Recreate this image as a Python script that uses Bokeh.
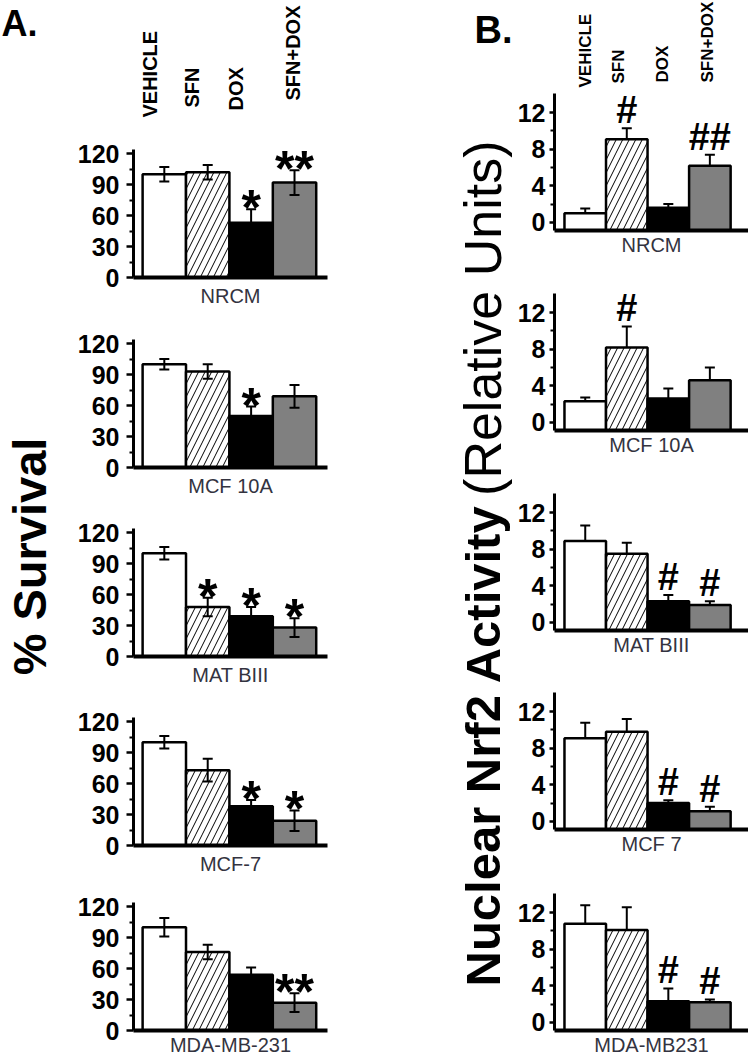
import numpy as np
from bokeh.plotting import figure
from bokeh.layouts import row, column
from bokeh.models import Range1d, FixedTicker, ColumnDataSource, Whisker, TeeHead, LabelSet
from bokeh.core.properties import value
from bokeh.embed import file_html
from bokeh.resources import INLINE

FONT = "Liberation Sans"

treatments = ["VEHICLE", "SFN", "DOX", "SFN+DOX"]

# ---------------- Panel A: % Survival ----------------
a_lines = ["NRCM", "MCF 10A", "MAT BIII", "MCF-7", "MDA-MB-231"]
a_nrcm = [100, 102, 53, 92]
a_nrcm_err = [7, 7, 13, 12]
a_mcf10a = [100, 93, 50, 69]
a_mcf10a_err = [5, 7, 9, 11]
a_matbiii = [100, 48, 39, 28]
a_matbiii_err = [6, 9, 9, 9]
a_mcf7 = [100, 73, 38, 24]
a_mcf7_err = [6, 11, 6, 10]
a_mdamb231 = [100, 76, 54, 27]
a_mdamb231_err = [9, 7, 7, 9]
a_marks = [["", "", "*", "**"],
           ["", "", "*", ""],
           ["", "*", "*", "*"],
           ["", "", "*", "*"],
           ["", "", "", "**"]]
a_ticks = [0, 30, 60, 90, 120]
a_minor = [15, 45, 75, 105]

# ---------------- Panel B: Nuclear Nrf2 activity ----------------
b_lines = ["NRCM", "MCF 10A", "MAT BIII", "MCF 7", "MDA-MB231"]
b_nrcm = [1.0, 9.1, 1.6, 6.2]
b_nrcm_err = [0.5, 1.2, 0.4, 1.2]
b_mcf10a = [2.3, 8.2, 2.6, 4.6]
b_mcf10a_err = [0.4, 2.3, 1.1, 1.4]
b_matbiii = [8.9, 7.5, 2.3, 1.9]
b_matbiii_err = [1.7, 1.2, 0.7, 0.4]
b_mcf7 = [9.1, 9.8, 2.0, 1.1]
b_mcf7_err = [1.7, 1.4, 0.3, 0.5]
b_mdamb231 = [10.8, 10.1, 2.3, 2.2]
b_mdamb231_err = [2.0, 2.5, 1.4, 0.3]
b_marks = [["", "#", "", "##"],
           ["", "#", "", ""],
           ["", "", "#", "#"],
           ["", "", "#", "#"],
           ["", "", "#", "#"]]
b_ticks = [0, 4, 8, 12]
b_minor = [2, 6, 10]

# ---------------- styles / layout ----------------
bar_fill = ["white", "white", "black", "#808080"]
bar_hatch = [" ", "/", " ", " "]

A_XR = (-0.71, 3.76)
A_YR = (0, 124)
B_XR = (-0.74, 3.93)
B_YR = (-0.9, 14.1)

TA_W, A_W, TB_W, B_W = 68, 322, 124, 234
A_BL, A_BR = 65, 63
B_BL, B_BR = 38, 0
# (height, top border, bottom border, label standoff) for each subplot
A_BOX = [(182, 19, 35, 7), (190, 27, 35, 7), (189, 26, 35, 7), (189, 26, 35, 7), (178, 22, 28, 3)]
B_BOX = [(172, 5, 30, 3), (200, 33, 30, 3), (200, 33, 30, 3), (199, 32, 30, 3), (199, 34, 28, 3)]
A_HEAD_H = 130
B_HEAD_H = 88
TOTAL_H = 1058


def base_fig(w, h, xr, yr, bl, br, bt, bb, axes=True):
    kw = dict(width=w, height=h, x_range=Range1d(*xr), y_range=Range1d(*yr),
              min_border_left=bl, min_border_right=br, min_border_top=bt, min_border_bottom=bb,
              toolbar_location=None, output_backend="svg")
    if not axes:
        kw.update(x_axis_type=None, y_axis_type=None)
    p = figure(**kw)
    p.outline_line_color = None
    p.grid.visible = False
    p.background_fill_color = "white"
    p.border_fill_color = "white"
    return p


def bar_panel(vals, errs, marks, name, panel, box):
    h, bt, bb, lab_standoff = box
    if panel == "A":
        p = base_fig(A_W, h, A_XR, A_YR, A_BL, A_BR, bt, bb)
        bottom = A_YR[0]
        lower = [v - e for v, e in zip(vals, errs)]
        ticks, minor = a_ticks, a_minor
        tick_out, standoff = 7, 7
        mark_size, mark_off = "50px", -16
    else:
        p = base_fig(B_W, h, B_XR, B_YR, B_BL, B_BR, bt, bb)
        bottom = B_YR[0]
        lower = list(vals)
        ticks, minor = b_ticks, b_minor
        tick_out, standoff = 5, 4
        mark_size, mark_off = "38px", 5
    xs = list(range(len(treatments)))
    upper = [v + e for v, e in zip(vals, errs)]
    src = ColumnDataSource(dict(x=xs, top=vals, lower=lower, upper=upper, mark=marks,
                                fill=bar_fill, hatch=bar_hatch))
    p.vbar(x="x", top="top", bottom=bottom, width=1.0, source=src, fill_color="fill",
           line_color="black", line_width=2.5, hatch_pattern="hatch", hatch_color="black",
           hatch_weight=1, hatch_scale=13)
    w = Whisker(source=src, base="x", lower="lower", upper="upper", dimension="height",
                line_color="black", line_width=2, level="overlay",
                upper_head=TeeHead(size=10, line_color="black", line_width=2),
                lower_head=TeeHead(size=10, line_color="black", line_width=2) if panel == "A" else None)
    p.add_layout(w)
    lab = LabelSet(source=src, x="x", y="upper", text="mark", text_align="center",
                   text_baseline="alphabetic", y_offset=mark_off, text_font=value(FONT),
                   text_font_style="bold", text_font_size=mark_size, text_color="black")
    p.add_layout(lab)

    xa = p.xaxis[0]
    xa.ticker = FixedTicker(ticks=[])
    xa.axis_line_width = 4
    xa.major_tick_out = 0
    xa.major_tick_in = 0
    xa.minor_tick_out = 0
    xa.minor_tick_in = 0
    xa.major_label_standoff = 0
    xa.axis_label = name
    xa.axis_label_text_font = FONT
    xa.axis_label_text_font_style = "normal"
    xa.axis_label_text_font_size = "20px"
    xa.axis_label_text_color = "#333340"
    xa.axis_label_standoff = lab_standoff

    ya = p.yaxis[0]
    ya.ticker = FixedTicker(ticks=ticks, minor_ticks=minor)
    ya.axis_line_width = 3
    ya.major_tick_out = tick_out
    ya.major_tick_in = 0
    ya.minor_tick_out = 4
    ya.minor_tick_in = 0
    ya.major_tick_line_width = 2.5
    ya.minor_tick_line_width = 2
    ya.major_label_text_font = FONT
    ya.major_label_text_font_style = "bold"
    ya.major_label_text_font_size = "25px"
    ya.major_label_text_color = "black"
    ya.major_label_standoff = standoff
    return p


# ---------- headers ----------
xs = list(range(len(treatments)))

ha = base_fig(A_W, A_HEAD_H, A_XR, (A_HEAD_H, 0), A_BL, A_BR, 0, 0, axes=False)
a_head_y = [117, 107, 110, 100]
a_head_dx = [-14, -16, -15, -2]
ha.text(x=xs, y=a_head_y, text=treatments, x_offset=a_head_dx, angle=np.pi / 2,
        text_align="left", text_baseline="middle", text_font=value(FONT),
        text_font_style="bold", text_font_size="20px", text_color="black")

hb = base_fig(B_W, B_HEAD_H, B_XR, (B_HEAD_H, 0), B_BL, B_BR, 0, 0, axes=False)
b_head_y = [87, 83, 82, 82]
b_head_dx = [0, -8, -6, -2]
hb.text(x=xs, y=b_head_y, text=treatments, x_offset=b_head_dx, angle=np.pi / 2,
        text_align="left", text_baseline="middle", text_font=value(FONT),
        text_font_style="bold", text_font_size="17px", text_color="black")

# ---------- side titles ----------
ta = base_fig(TA_W, TOTAL_H, (0, TA_W), (TOTAL_H, 0), 0, 0, 0, 0, axes=False)
ta.text(x=[1], y=[23], text=["A."], text_align="left", text_baseline="middle",
        text_font=value(FONT), text_font_style="bold", text_font_size="36px", text_color="black")
ta.text(x=[29], y=[556], text=["% Survival"], angle=np.pi / 2, text_align="center",
        text_baseline="middle", text_font=value(FONT), text_font_style="bold",
        text_font_size="47px", text_color="black")

tb = base_fig(TB_W, TOTAL_H, (0, TB_W), (TOTAL_H, 0), 0, 0, 0, 0, axes=False)
tb.text(x=[122], y=[29], text=["B."], text_align="right", text_baseline="middle",
        text_font=value(FONT), text_font_style="bold", text_font_size="38px", text_color="black")
tb.text(x=[92], y=[986], text=["Nuclear Nrf2 Activity"], angle=np.pi / 2, text_align="left",
        text_baseline="middle", text_font=value(FONT), text_font_style="bold",
        text_font_size="49px", text_color="black")
tb.text(x=[92], y=[140], text=["(Relative Units)"], angle=np.pi / 2, text_align="right",
        text_baseline="middle", text_font=value(FONT), text_font_style="normal",
        text_font_size="52px", text_color="black")

# ---------- subplots ----------
a_vals = [a_nrcm, a_mcf10a, a_matbiii, a_mcf7, a_mdamb231]
a_errs = [a_nrcm_err, a_mcf10a_err, a_matbiii_err, a_mcf7_err, a_mdamb231_err]
b_vals = [b_nrcm, b_mcf10a, b_matbiii, b_mcf7, b_mdamb231]
b_errs = [b_nrcm_err, b_mcf10a_err, b_matbiii_err, b_mcf7_err, b_mdamb231_err]

a_figs = [bar_panel(v, e, m, n, "A", bx) for v, e, m, n, bx in zip(a_vals, a_errs, a_marks, a_lines, A_BOX)]
b_figs = [bar_panel(v, e, m, n, "B", bx) for v, e, m, n, bx in zip(b_vals, b_errs, b_marks, b_lines, B_BOX)]

layout = row(ta, column(ha, *a_figs, spacing=0), tb, column(hb, *b_figs, spacing=0), spacing=0)

open("out.html", "w").write(file_html(layout, INLINE))
